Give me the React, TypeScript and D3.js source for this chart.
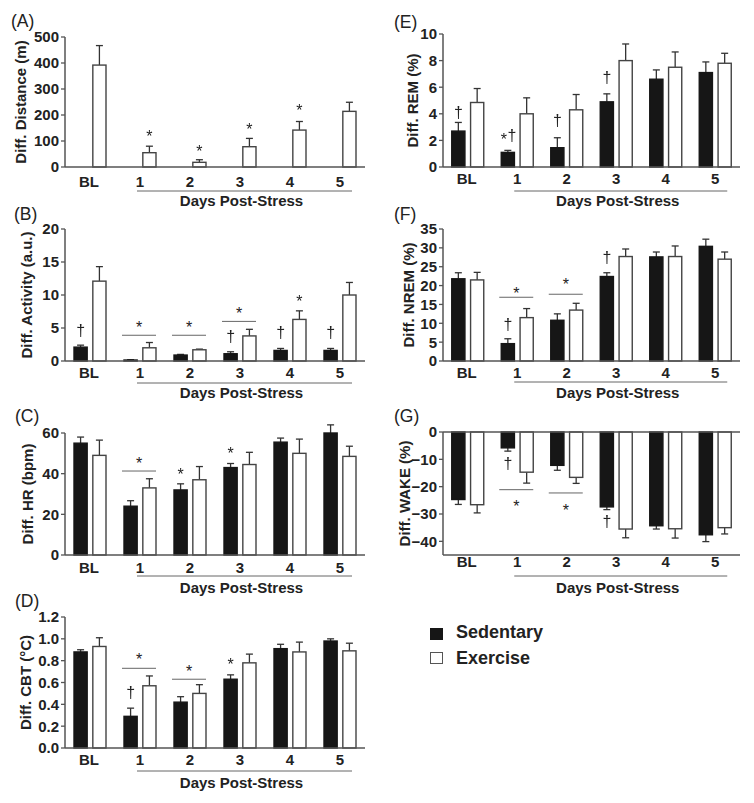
import React from 'react';
import * as d3 from 'd3';

const categories = ['BL', '1', '2', '3', '4', '5'];

// (A) Distance — exercise only
const distanceSed: (number | null)[] = [null, null, null, null, null, null];
const distanceSedErr: (number | null)[] = [null, null, null, null, null, null];
const distanceEx = [392, 55, 18, 78, 142, 214];
const distanceExErr = [75, 25, 10, 32, 33, 35];

// (B) Activity
const activitySed = [2.1, 0.15, 0.9, 1.1, 1.6, 1.6];
const activitySedErr = [0.3, 0.05, 0.1, 0.3, 0.3, 0.3];
const activityEx = [12.1, 2.0, 1.7, 3.8, 6.3, 10.0];
const activityExErr = [2.2, 0.8, 0.1, 1.0, 1.3, 1.9];

// (C) HR
const hrSed = [55, 24, 32, 43, 55.5, 60];
const hrSedErr = [3, 2.7, 3, 2, 2, 4];
const hrEx = [49, 33, 37, 44.5, 50, 48.5];
const hrExErr = [7.5, 4.5, 6.5, 6, 7, 5];

// (D) CBT
const cbtSed = [0.88, 0.29, 0.42, 0.63, 0.91, 0.98];
const cbtSedErr = [0.02, 0.075, 0.05, 0.04, 0.04, 0.02];
const cbtEx = [0.93, 0.57, 0.5, 0.78, 0.88, 0.89];
const cbtExErr = [0.08, 0.09, 0.08, 0.08, 0.09, 0.07];

// (E) REM
const remSed = [2.7, 1.1, 1.45, 4.9, 6.6, 7.1];
const remSedErr = [0.65, 0.15, 0.75, 0.6, 0.7, 0.8];
const remEx = [4.85, 4.0, 4.3, 8.0, 7.5, 7.8];
const remExErr = [1.05, 1.2, 1.15, 1.25, 1.15, 0.75];

// (F) NREM
const nremSed = [21.8, 4.6, 10.8, 22.4, 27.6, 30.4];
const nremSedErr = [1.6, 1.3, 1.7, 1.0, 1.3, 1.9];
const nremEx = [21.5, 11.5, 13.5, 27.7, 27.7, 27.0];
const nremExErr = [2.0, 2.4, 1.8, 2.0, 2.8, 1.9];

// (G) WAKE
const wakeSed = [-24.7, -5.8, -12.2, -27.4, -34.3, -37.6];
const wakeSedErr = [1.8, 1.2, 1.8, 1.0, 1.2, 2.5];
const wakeEx = [-26.6, -14.7, -16.6, -35.5, -35.4, -35.0];
const wakeExErr = [3.0, 4.0, 2.2, 3.2, 3.4, 2.3];

// tick values
const distanceTicks = [0, 100, 200, 300, 400, 500];
const activityTicks = [0, 5, 10, 15, 20];
const hrTicks = [0, 20, 40, 60];
const cbtTicks = [0, 0.2, 0.4, 0.6, 0.8, 1.0, 1.2];
const remTicks = [0, 2, 4, 6, 8, 10];
const nremTicks = [0, 5, 10, 15, 20, 25, 30, 35];
const wakeTicks = [0, -10, -20, -30, -40];

type Mark = { glyph: string; cat: string; series: 'sed' | 'ex'; v: number; dx?: number };
type Bracket = { cat: string; v: number; starV: number };

const distanceMarks: Mark[] = [
  { glyph: '*', cat: '1', series: 'ex', v: 127 },
  { glyph: '*', cat: '2', series: 'ex', v: 73 },
  { glyph: '*', cat: '3', series: 'ex', v: 154 },
  { glyph: '*', cat: '4', series: 'ex', v: 227 },
];
const activityMarks: Mark[] = [
  { glyph: '†', cat: 'BL', series: 'sed', v: 4.5 },
  { glyph: '†', cat: '3', series: 'sed', v: 3.6 },
  { glyph: '†', cat: '4', series: 'sed', v: 4.2 },
  { glyph: '*', cat: '4', series: 'ex', v: 9.5 },
  { glyph: '†', cat: '5', series: 'sed', v: 4.2 },
];
const activityBrackets: Bracket[] = [
  { cat: '1', v: 3.9, starV: 5.6 },
  { cat: '2', v: 3.9, starV: 5.6 },
  { cat: '3', v: 6.0, starV: 7.6 },
];
const hrMarks: Mark[] = [
  { glyph: '*', cat: '2', series: 'sed', v: 41.3 },
  { glyph: '*', cat: '3', series: 'sed', v: 51.2 },
];
const hrBrackets: Bracket[] = [{ cat: '1', v: 41.3, starV: 46.7 }];
const cbtMarks: Mark[] = [
  { glyph: '†', cat: '1', series: 'sed', v: 0.495 },
  { glyph: '*', cat: '3', series: 'sed', v: 0.79 },
];
const cbtBrackets: Bracket[] = [
  { cat: '1', v: 0.73, starV: 0.836 },
  { cat: '2', v: 0.63, starV: 0.73 },
];
const remMarks: Mark[] = [
  { glyph: '†', cat: 'BL', series: 'sed', v: 4.04 },
  { glyph: '*', cat: '1', series: 'sed', v: 2.33, dx: -4 },
  { glyph: '†', cat: '1', series: 'sed', v: 2.3, dx: 4 },
  { glyph: '†', cat: '2', series: 'sed', v: 3.4 },
  { glyph: '†', cat: '3', series: 'sed', v: 6.67 },
];
const nremMarks: Mark[] = [
  { glyph: '†', cat: '1', series: 'sed', v: 9.5 },
  { glyph: '†', cat: '3', series: 'sed', v: 27.2 },
];
const nremBrackets: Bracket[] = [
  { cat: '1', v: 16.9, starV: 18.8 },
  { cat: '2', v: 17.7, starV: 21.0 },
];
const wakeMarks: Mark[] = [
  { glyph: '†', cat: '1', series: 'sed', v: -12.0 },
  { glyph: '†', cat: '3', series: 'sed', v: -33.2 },
];
const wakeBrackets: Bracket[] = [
  { cat: '1', v: -21.1, starV: -26.2 },
  { cat: '2', v: -22.3, starV: -27.5 },
];

const legendLabels = ['Sedentary', 'Exercise'];
const groupLabel = 'Days Post-Stress';

const FONT = '"Liberation Sans", Arial, Helvetica, sans-serif';
const AXIS = '#555';
const INK = '#222';
const BAR = '#161616';

type PanelCfg = {
  title: string;
  yLabel: string;
  sed: (number | null)[];
  sedErr: (number | null)[];
  ex: number[];
  exErr: number[];
  domain: [number, number];
  ticks: number[];
  fmt: (v: number) => string;
  marks: Mark[];
  brackets: Bracket[];
  // layout
  axisX: number;
  xEnd: number;
  top: number;
  bottom: number;
  titleX: number;
  titleY: number;
  yLabelX: number;
  catDy: number;
  lineDy: number;
  textDy: number;
  zeroLine?: boolean;
};

const fmtInt = (v: number) => d3.format('d')(v);
const fmt1 = (v: number) => d3.format('.1f')(v);

const panels: PanelCfg[] = [
  {
    title: '(A)', yLabel: 'Diff. Distance (m)', sed: distanceSed, sedErr: distanceSedErr, ex: distanceEx, exErr: distanceExErr,
    domain: [0, 500], ticks: distanceTicks, fmt: fmtInt, marks: distanceMarks, brackets: [],
    axisX: 65, xEnd: 365, top: 37, bottom: 167, titleX: 11, titleY: 27, yLabelX: 21, catDy: 20, lineDy: 24, textDy: 39,
  },
  {
    title: '(B)', yLabel: 'Diff. Activity (a.u.)', sed: activitySed, sedErr: activitySedErr, ex: activityEx, exErr: activityExErr,
    domain: [0, 20], ticks: activityTicks, fmt: fmtInt, marks: activityMarks, brackets: activityBrackets,
    axisX: 65, xEnd: 365, top: 229, bottom: 361, titleX: 14, titleY: 220, yLabelX: 27, catDy: 17, lineDy: 22, textDy: 37,
  },
  {
    title: '(C)', yLabel: 'Diff. HR (bpm)', sed: hrSed, sedErr: hrSedErr, ex: hrEx, exErr: hrExErr,
    domain: [0, 60], ticks: hrTicks, fmt: fmtInt, marks: hrMarks, brackets: hrBrackets,
    axisX: 65, xEnd: 365, top: 433, bottom: 555, titleX: 15, titleY: 422, yLabelX: 28, catDy: 18, lineDy: 21, textDy: 38,
  },
  {
    title: '(D)', yLabel: 'Diff. CBT (°C)', sed: cbtSed, sedErr: cbtSedErr, ex: cbtEx, exErr: cbtExErr,
    domain: [0, 1.2], ticks: cbtTicks, fmt: fmt1, marks: cbtMarks, brackets: cbtBrackets,
    axisX: 65, xEnd: 365, top: 617, bottom: 748, titleX: 15, titleY: 607, yLabelX: 26, catDy: 17, lineDy: 23, textDy: 40,
  },
  {
    title: '(E)', yLabel: 'Diff. REM (%)', sed: remSed, sedErr: remSedErr, ex: remEx, exErr: remExErr,
    domain: [0, 10], ticks: remTicks, fmt: fmtInt, marks: remMarks, brackets: [],
    axisX: 443, xEnd: 740, top: 34, bottom: 167, titleX: 394, titleY: 28, yLabelX: 413, catDy: 17, lineDy: 24, textDy: 39,
  },
  {
    title: '(F)', yLabel: 'Diff. NREM (%)', sed: nremSed, sedErr: nremSedErr, ex: nremEx, exErr: nremExErr,
    domain: [0, 35], ticks: nremTicks, fmt: fmtInt, marks: nremMarks, brackets: nremBrackets,
    axisX: 443, xEnd: 740, top: 229, bottom: 361, titleX: 394, titleY: 220, yLabelX: 409, catDy: 17, lineDy: 21, textDy: 37,
  },
  {
    title: '(G)', yLabel: 'Diff. WAKE (%)', sed: wakeSed, sedErr: wakeSedErr, ex: wakeEx, exErr: wakeExErr,
    domain: [-45, 0], ticks: wakeTicks, fmt: fmtInt, marks: wakeMarks, brackets: wakeBrackets,
    axisX: 443, xEnd: 740, top: 432, bottom: 555, titleX: 394, titleY: 422, yLabelX: 405, catDy: 12, lineDy: 21, textDy: 38,
    zeroLine: true,
  },
];

// glyph baseline offset so that the visual ink center lands on the value
const glyphOffset: Record<string, number> = { '*': 8.5, '†': 4.5 };

function Panel({ p }: { p: PanelCfg }) {
  const x = d3.scaleBand<string>().domain(categories).range([p.axisX, p.xEnd]);
  const y = d3.scaleLinear().domain(p.domain).range([p.bottom, p.top]);
  const center = (c: string) => (x(c) as number) + x.bandwidth() / 2;
  const inner = d3.scaleBand<string>().domain(['sed', 'ex']).range([-16, 16]).paddingInner(0.3);
  const bw = inner.bandwidth();
  const barX = (c: string, s: 'sed' | 'ex') => center(c) + (inner(s) as number);
  const y0 = y(0);

  const bars: React.ReactNode[] = [];
  categories.forEach((c, i) => {
    (['sed', 'ex'] as const).forEach((s) => {
      const v = s === 'sed' ? p.sed[i] : p.ex[i];
      const e = s === 'sed' ? p.sedErr[i] : p.exErr[i];
      if (v === null || v === undefined) return;
      const bx = barX(c, s);
      const yv = y(v);
      const ye = y(v >= 0 ? v + (e || 0) : v - (e || 0));
      const cx = bx + bw / 2;
      bars.push(
        <g key={`${c}-${s}`}>
          <line x1={cx} x2={cx} y1={yv} y2={ye} stroke="#333" strokeWidth={1.3} />
          <line x1={cx - 3.5} x2={cx + 3.5} y1={ye} y2={ye} stroke="#333" strokeWidth={1.3} />
          <rect
            x={bx}
            y={Math.min(yv, y0)}
            width={bw}
            height={Math.abs(y0 - yv)}
            fill={s === 'sed' ? BAR : '#fff'}
            stroke={s === 'sed' ? BAR : '#444'}
            strokeWidth={1.4}
          />
        </g>
      );
    });
  });

  const lineX1 = center('1') - 3;
  const lineX2 = center('5') + 12;
  const midY = (p.top + p.bottom) / 2;

  return (
    <g>
      <text x={p.titleX} y={p.titleY} fontSize={17.5} fill={INK} fontFamily={FONT}>
        {p.title}
      </text>
      <text
        transform={`translate(${p.yLabelX},${midY}) rotate(-90)`}
        textAnchor="middle"
        dy="0.36em"
        fontSize={15}
        fontWeight="bold"
        fill={INK}
        fontFamily={FONT}
      >
        {p.yLabel}
      </text>
      {p.ticks.map((t) => (
        <g key={t}>
          <line x1={p.axisX - 4} x2={p.axisX} y1={y(t)} y2={y(t)} stroke={AXIS} strokeWidth={1.3} />
          <text
            x={p.axisX - 6}
            y={y(t)}
            dy="0.36em"
            textAnchor="end"
            fontSize={15}
            fontWeight="bold"
            fill={INK}
            fontFamily={FONT}
          >
            {p.fmt(t)}
          </text>
        </g>
      ))}
      {bars}
      <line x1={p.axisX} x2={p.axisX} y1={p.top} y2={p.bottom} stroke={AXIS} strokeWidth={1.5} />
      <line x1={p.axisX} x2={p.xEnd} y1={p.bottom} y2={p.bottom} stroke={AXIS} strokeWidth={1.5} />
      {p.zeroLine && <line x1={p.axisX} x2={p.xEnd} y1={y0} y2={y0} stroke={AXIS} strokeWidth={1.5} />}
      {categories.map((c) => (
        <text
          key={c}
          x={center(c) + (c === 'BL' ? -1 : 0)}
          y={p.bottom + p.catDy}
          textAnchor="middle"
          fontSize={15}
          fontWeight="bold"
          fill={INK}
          fontFamily={FONT}
        >
          {c}
        </text>
      ))}
      <line x1={lineX1} x2={lineX2} y1={p.bottom + p.lineDy} y2={p.bottom + p.lineDy} stroke="#666" strokeWidth={1} />
      <text
        x={(lineX1 + lineX2) / 2 - 3}
        y={p.bottom + p.textDy}
        textAnchor="middle"
        fontSize={15}
        fontWeight="bold"
        fill={INK}
        fontFamily={FONT}
      >
        {groupLabel}
      </text>
      {p.brackets.map((b, i) => {
        const x1 = barX(b.cat, 'sed') - 2;
        const x2 = barX(b.cat, 'ex') + bw;
        return (
          <g key={`b${i}`}>
            <line x1={x1} x2={x2} y1={y(b.v)} y2={y(b.v)} stroke="#666" strokeWidth={1} />
            <text
              x={(x1 + x2) / 2}
              y={y(b.starV) + glyphOffset['*']}
              textAnchor="middle"
              fontSize={16}
              fill={INK}
              fontFamily={FONT}
            >
              *
            </text>
          </g>
        );
      })}
      <g filter="url(#mono)">
        {p.marks.map((m, i) => (
          <text
            key={`m${i}`}
            x={barX(m.cat, m.series) + bw / 2 + (m.dx || 0)}
            y={y(m.v) + glyphOffset[m.glyph]}
            textAnchor="middle"
            fontSize={16}
            fill={INK}
            fontFamily={FONT}
          >
            {m.glyph}
          </text>
        ))}
      </g>
    </g>
  );
}

export default function App() {
  return (
    <svg
      width={754}
      height={803}
      style={{ position: 'absolute', left: 0, top: 0, background: '#fff' }}
      xmlns="http://www.w3.org/2000/svg"
    >
      <defs>
        <filter id="mono" x="-20%" y="-20%" width="140%" height="140%">
          <feColorMatrix type="saturate" values="0" />
        </filter>
      </defs>
      <rect x={0} y={0} width={754} height={803} fill="#fff" />
      {panels.map((p) => (
        <Panel key={p.title} p={p} />
      ))}
      <g fontFamily={FONT}>
        <rect x={430} y={628} width={13} height={12} fill={BAR} />
        <text x={456} y={638} fontSize={18} fontWeight="bold" fill={INK}>
          {legendLabels[0]}
        </text>
        <rect x={430.5} y={652.5} width={12} height={11} fill="#fff" stroke="#555" strokeWidth={1} />
        <text x={456} y={664} fontSize={18} fontWeight="bold" fill={INK}>
          {legendLabels[1]}
        </text>
      </g>
    </svg>
  );
}
